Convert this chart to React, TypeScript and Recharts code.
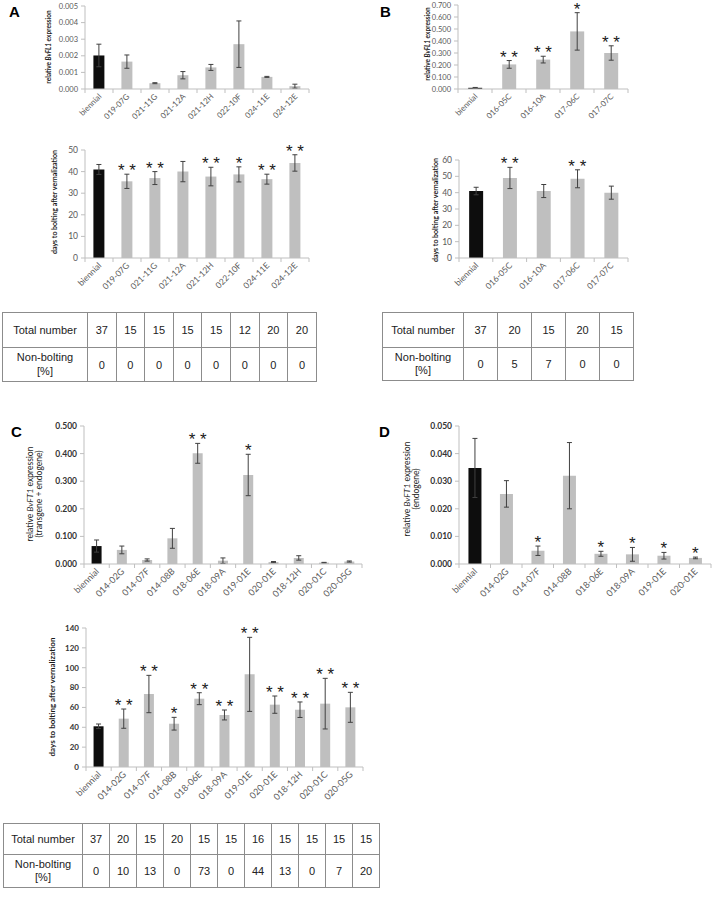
import React from 'react';
import { ComposedChart, Bar, Cell, XAxis, YAxis, ErrorBar, Scatter } from 'recharts';

const AXIS = '#bfbfbf';
const TICK = '#595959';
const BLACK_BAR = '#0d0d0d';
const GREY_BAR = '#bfbfbf';
const ERR = '#404040';
const FONT = 'Lato, "Open Sans", sans-serif';
const TABLE_FONT = '"Liberation Sans", Arial, sans-serif';

// ---- panel A ----
const aLines = ['biennial', '019-07G', '021-11G', '021-12A', '021-12H', '022-10F', '024-11E', '024-12E'];
const aExpr = [0.00202, 0.00165, 0.00035, 0.00083, 0.0013, 0.0027, 0.00073, 0.00017];
const aExprErr = [0.00068, 0.0004, 0.00003, 0.00022, 0.00018, 0.0014, 0.00003, 0.00012];
const aExprSig = ['', '', '', '', '', '', '', ''];
const aDays = [41, 35.5, 37, 40, 37.7, 38.7, 36.5, 44];
const aDaysErr = [2.3, 3.3, 3, 4.7, 4.3, 3.5, 2.3, 3.8];
const aDaysSig = ['', '**', '**', '', '**', '*', '**', '**'];
const aTotal = [37, 15, 15, 15, 15, 12, 20, 20];
const aNonBolt = [0, 0, 0, 0, 0, 0, 0, 0];

// ---- panel B ----
const bLines = ['biennial', '016-05C', '016-10A', '017-06C', '017-07C'];
const bExpr = [0.01, 0.205, 0.245, 0.48, 0.3];
const bExprErr = [0.003, 0.032, 0.028, 0.156, 0.06];
const bExprSig = ['', '**', '**', '*', '**'];
const bDays = [41, 49, 41, 48.5, 40];
const bDaysErr = [2.3, 6.5, 4, 5.5, 4];
const bDaysSig = ['', '**', '', '**', ''];
const bTotal = [37, 20, 15, 20, 15];
const bNonBolt = [0, 5, 7, 0, 0];

// ---- panel C ----
const cLines = ['biennial', '014-02G', '014-07F', '014-08B', '018-06E', '018-09A', '019-01E', '020-01E', '018-12H', '020-01C', '020-05G'];
const cExpr = [0.065, 0.051, 0.0145, 0.093, 0.401, 0.012, 0.3225, 0.007, 0.022, 0.005, 0.009];
const cExprErr = [0.022, 0.014, 0.004, 0.036, 0.036, 0.01, 0.075, 0.002, 0.008, 0.001, 0.002];
const cExprSig = ['', '', '', '', '**', '', '*', '', '', '', ''];
const cDays = [41, 48.7, 73.5, 43.6, 68.8, 52.4, 93.3, 62.8, 57.7, 63.8, 60.1];
const cDaysErr = [2.3, 9.7, 18.8, 6.4, 6, 5, 37.3, 8.7, 7.8, 25.5, 15.1];
const cDaysSig = ['', '**', '**', '*', '**', '**', '**', '**', '**', '**', '**'];
const cTotal = [37, 20, 15, 20, 15, 15, 16, 15, 15, 15, 15];
const cNonBolt = [0, 10, 13, 0, 73, 0, 44, 13, 0, 7, 20];

// ---- panel D ----
const dLines = ['biennial', '014-02G', '014-07F', '014-08B', '018-06E', '018-09A', '019-01E', '020-01E'];
const dExpr = [0.0348, 0.0254, 0.0048, 0.032, 0.0037, 0.0035, 0.003, 0.0022];
const dExprErr = [0.0107, 0.0048, 0.0017, 0.012, 0.0009, 0.0025, 0.0012, 0.0003];
const dExprSig = ['', '', '*', '', '*', '*', '*', '*'];

const YW = 44;
const MT = 24;
const MR = 12;
const XH = 60;

type PanelProps = {
  left: number; top: number; plotW: number; plotH: number;
  names: string[]; vals: number[]; errs: number[]; sig: string[];
  yMax: number; yStep: number; decimals: number;
  tickFont: number; tickBold?: boolean; xFont: number;
};

function Panel(p: PanelProps) {
  const data = p.names.map((n, i) => ({
    name: n, v: p.vals[i], err: p.errs[i],
    hi: p.sig[i] ? p.vals[i] + p.errs[i] : null, sig: p.sig[i],
  }));
  const ticks: number[] = [];
  for (let t = 0; t <= p.yMax + 1e-9; t += p.yStep) ticks.push(+t.toFixed(6));
  const band = p.plotW / p.names.length;
  const axisY = MT + p.plotH;
  const n = p.names.length;

  const xTick = (props: any) => {
    const { x, payload, index } = props;
    const ax = x + 3;
    const ay = axisY + 8;
    return (
      <g>
        <line x1={x - band / 2} x2={x - band / 2} y1={axisY} y2={axisY + 4} stroke={AXIS} />
        {index === n - 1 && <line x1={x + band / 2} x2={x + band / 2} y1={axisY} y2={axisY + 4} stroke={AXIS} />}
        <text x={ax} y={ay} transform={`rotate(-45 ${ax} ${ay})`} textAnchor="end"
          fontSize={p.xFont} fill={TICK} fontFamily={FONT}>{payload.value}</text>
      </g>
    );
  };

  // significance stars sit just above the error bar cap
  const star = (props: any) => {
    const { cx, cy, payload } = props;
    if (!payload || !payload.sig) return null;
    return (
      <text x={cx} y={cy + 2} textAnchor="middle" fontSize={17} fill="#1a1a1a" fontFamily={TABLE_FONT}>
        {payload.sig.split('').join(' ')}
      </text>
    );
  };

  return (
    <div style={{ position: 'absolute', left: p.left - YW, top: p.top - MT }}>
      <ComposedChart width={YW + p.plotW + MR} height={MT + p.plotH + XH} data={data}
        margin={{ top: MT, right: MR, bottom: 0, left: 0 }} barCategoryGap="30%">
        <XAxis dataKey="name" interval={0} height={XH} tickLine={false} stroke={AXIS} tick={xTick} />
        <YAxis type="number" domain={[0, p.yMax]} ticks={ticks} interval={0} width={YW} stroke={AXIS}
          tickSize={4} tickMargin={3} tickFormatter={(v: number) => v.toFixed(p.decimals)}
          tick={{ fontSize: p.tickFont, fill: p.tickBold ? '#333' : TICK, fontFamily: FONT, fontWeight: p.tickBold ? 700 : 400 }} />
        <Bar dataKey="v" isAnimationActive={false}>
          {data.map((d, i) => <Cell key={i} fill={i === 0 ? BLACK_BAR : GREY_BAR} />)}
          <ErrorBar dataKey="err" width={2.5} stroke={ERR} strokeWidth={1} direction="y" />
        </Bar>
        <Scatter dataKey="hi" shape={star} isAnimationActive={false} />
      </ComposedChart>
    </div>
  );
}

function YLabel({ x, y, size, bold, children }: any) {
  return (
    <div style={{
      position: 'absolute', left: x, top: y, transform: 'translate(-50%, -50%) rotate(-90deg)',
      whiteSpace: 'nowrap', fontFamily: FONT, fontSize: size, fontWeight: bold ? 700 : 400,
      color: '#1a1a1a', textAlign: 'center', lineHeight: 1.1,
    }}>{children}</div>
  );
}

function CountTable({ left, top, firstW, cellW, h1, h2, total, nonBolt }: any) {
  const td: React.CSSProperties = { border: '1px solid #8c8c8c', textAlign: 'center', padding: 0, width: cellW };
  return (
    <table style={{
      position: 'absolute', left, top, borderCollapse: 'collapse', tableLayout: 'fixed',
      fontFamily: TABLE_FONT, fontSize: 11, color: '#222', width: firstW + cellW * total.length,
    }}>
      <tbody>
        <tr style={{ height: h1 }}>
          <td style={{ ...td, width: firstW }}>Total number</td>
          {total.map((t: number, i: number) => <td key={i} style={td}>{t}</td>)}
        </tr>
        <tr style={{ height: h2 }}>
          <td style={{ ...td, width: firstW, lineHeight: 1.2 }}>Non-bolting<br />[%]</td>
          {nonBolt.map((t: number, i: number) => <td key={i} style={td}>{t}</td>)}
        </tr>
      </tbody>
    </table>
  );
}

const Letter = ({ x, y, c }: any) => (
  <div style={{ position: 'absolute', left: x, top: y, fontFamily: TABLE_FONT, fontWeight: 700, fontSize: 15, lineHeight: 1 }}>{c}</div>
);

export default function App() {
  return (
    <div style={{ position: 'absolute', left: 0, top: 0, width: 714, height: 897, background: '#fff', overflow: 'hidden' }}>
      <Letter x={9} y={4} c="A" />
      <Letter x={380} y={4} c="B" />
      <Letter x={11} y={424} c="C" />
      <Letter x={379} y={424} c="D" />

      {/* A */}
      <Panel left={84.5} top={6} plotW={224} plotH={83} names={aLines} vals={aExpr} errs={aExprErr} sig={aExprSig}
        yMax={0.005} yStep={0.001} decimals={3} tickFont={7.5} xFont={8} />
      <YLabel x={49} y={47} size={6.5} bold>relative <i>BvFL1</i> expression</YLabel>
      <Panel left={84.5} top={150} plotW={224} plotH={108} names={aLines} vals={aDays} errs={aDaysErr} sig={aDaysSig}
        yMax={50} yStep={10} decimals={0} tickFont={8.5} xFont={8.5} />
      <YLabel x={55} y={202} size={7} bold>days to bolting after vernalization</YLabel>
      <CountTable left={2} top={312} firstW={84} cellW={27.6} h1={35} h2={34} total={aTotal} nonBolt={aNonBolt} />

      {/* B */}
      <Panel left={458} top={5} plotW={170} plotH={84} names={bLines} vals={bExpr} errs={bExprErr} sig={bExprSig}
        yMax={0.7} yStep={0.1} decimals={3} tickFont={7.5} xFont={8} />
      <YLabel x={428} y={44} size={6.5} bold>relative <i>BvFL1</i> expression</YLabel>
      <Panel left={459} top={160} plotW={169} plotH={98} names={bLines} vals={bDays} errs={bDaysErr} sig={bDaysSig}
        yMax={60} yStep={10} decimals={0} tickFont={8.5} xFont={8.5} />
      <YLabel x={436} y={210} size={7} bold>days to bolting after vernalization</YLabel>
      <CountTable left={382} top={312} firstW={80} cellW={33} h1={35} h2={33} total={bTotal} nonBolt={bNonBolt} />

      {/* C */}
      <Panel left={84} top={426} plotW={278} plotH={138} names={cLines} vals={cExpr} errs={cExprErr} sig={cExprSig}
        yMax={0.5} yStep={0.1} decimals={3} tickFont={8.5} tickBold xFont={9} />
      <YLabel x={35} y={494} size={8.5}>relative <i>BvFT1</i> expression<br />(transgene + endogene)</YLabel>
      <Panel left={85.5} top={628} plotW={277} plotH={139} names={cLines} vals={cDays} errs={cDaysErr} sig={cDaysSig}
        yMax={140} yStep={20} decimals={0} tickFont={8} tickBold xFont={9} />
      <YLabel x={52} y={697} size={8} bold>days to bolting after vernalization</YLabel>
      <CountTable left={3} top={823} firstW={78} cellW={26} h1={31} h2={33} total={cTotal} nonBolt={cNonBolt} />

      {/* D */}
      <Panel left={459} top={426} plotW={252} plotH={138} names={dLines} vals={dExpr} errs={dExprErr} sig={dExprSig}
        yMax={0.05} yStep={0.01} decimals={3} tickFont={8.5} tickBold xFont={9} />
      <YLabel x={411.5} y={489} size={8.5}>relative <i>BvFT1</i> expression<br />(endogene)</YLabel>
    </div>
  );
}
